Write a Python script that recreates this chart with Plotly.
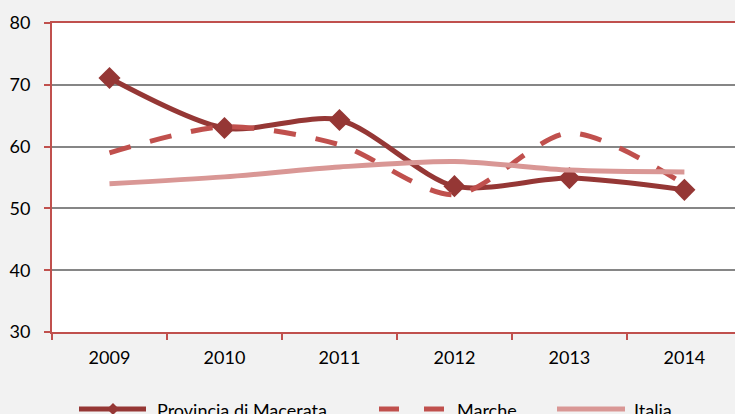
import plotly.graph_objects as go

years = ["2009", "2010", "2011", "2012", "2013", "2014"]
macerata = [71.1, 63.0, 64.3, 53.6, 54.9, 53.0]
marche = [59.0, 63.2, 60.3, 52.2, 62.2, 53.9]
italia = [54.0, 55.1, 56.7, 57.6, 56.2, 55.9]
y_ticks = [30, 40, 50, 60, 70, 80]
series_names = ["Provincia di Macerata", "Marche", "Italia"]

RED = "#c0504d"
DARK = "#953735"
PINK = "#d99795"
FONT = "Lato"

W, H = 735, 414
ML, MR, MT, MB = 52, 0, 23, 82
PW, PH = W - ML - MR, H - MT - MB

fig = go.Figure()
fig.add_trace(go.Scatter(x=years, y=macerata, name=series_names[0],
                         mode="lines+markers",
                         line=dict(color=DARK, width=5, shape="spline", smoothing=0.8),
                         marker=dict(symbol="diamond", size=17, color=DARK)))
fig.add_trace(go.Scatter(x=years, y=marche, name=series_names[1], mode="lines",
                         line=dict(color=RED, width=5, shape="spline", smoothing=0.8,
                                   dash="22px,20px")))
fig.add_trace(go.Scatter(x=years, y=italia, name=series_names[2], mode="lines",
                         line=dict(color=PINK, width=5, shape="spline", smoothing=0.8)))


def px_x(px):
    return (px - ML) / PW


def px_y(py):
    return (H - MB - py) / PH


# manual legend (positions in pixels)
ly = 409
shapes = []
annotations = []
shapes.append(dict(type="line", xref="paper", yref="paper", x0=px_x(79), x1=px_x(146),
                   y0=px_y(ly), y1=px_y(ly), line=dict(color=DARK, width=5)))
shapes.append(dict(type="path", xref="paper", yref="paper", xsizemode="pixel",
                   ysizemode="pixel", xanchor=px_x(113), yanchor=px_y(ly),
                   path="M0,6 L6,0 L0,-6 L-6,0 Z", fillcolor=DARK, line=dict(width=0)))
for a, b in [(379, 399), (424, 444)]:
    shapes.append(dict(type="line", xref="paper", yref="paper", x0=px_x(a), x1=px_x(b),
                       y0=px_y(ly), y1=px_y(ly), line=dict(color=RED, width=5)))
shapes.append(dict(type="line", xref="paper", yref="paper", x0=px_x(557), x1=px_x(625),
                   y0=px_y(ly), y1=px_y(ly), line=dict(color=PINK, width=5)))
for name, tx in zip(series_names, [155, 455, 632]):
    annotations.append(dict(text=name, xref="paper", yref="paper", x=px_x(tx),
                            y=px_y(ly + 1), xanchor="left", yanchor="middle",
                            showarrow=False, font=dict(size=18, family=FONT, color="black")))

fig.update_layout(
    width=W, height=H,
    margin=dict(l=ML, r=MR, t=MT, b=MB),
    paper_bgcolor="#f2f2f2", plot_bgcolor="white",
    font=dict(family=FONT, size=18, color="black"),
    showlegend=False,
    shapes=shapes, annotations=annotations,
)
fig.update_xaxes(type="category", range=[-0.5, 5.44], showline=True, linecolor=RED,
                 linewidth=2, mirror=True, ticks="outside", tickson="boundaries",
                 tickcolor=RED, ticklen=6, tickwidth=2, showgrid=False, zeroline=False,
                 automargin=False, ticklabelstandoff=8)
fig.update_yaxes(range=[30, 80], tickvals=y_ticks, showline=True, linecolor=RED,
                 linewidth=2, ticks="outside", tickcolor=RED, ticklen=6, tickwidth=2,
                 gridcolor="#868686", gridwidth=1.5, zeroline=False,
                 automargin=False, ticklabelstandoff=10)

fig.write_html("out.html",
               config={"displayModeBar": False},
               post_script="document.body.style.margin='0';"
                           "document.body.style.overflow='hidden';")
